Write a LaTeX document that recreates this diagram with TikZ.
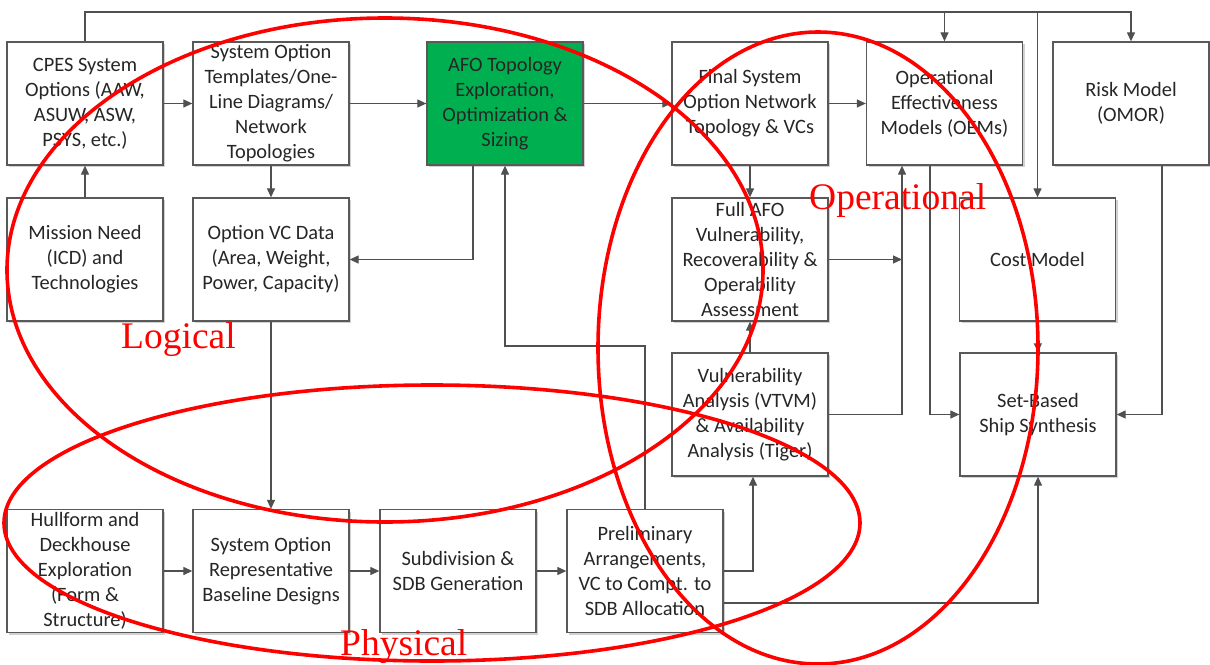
\documentclass[tikz,border=0pt]{standalone}
\usepackage{fontspec}
\setmainfont{Carlito}
\newfontfamily\ringfont{Liberation Serif}
\usetikzlibrary{arrows.meta,shadows}

\definecolor{edgegray}{RGB}{89,89,89}
\definecolor{linegray}{RGB}{80,80,80}
\definecolor{afogreen}{RGB}{0,176,80}
\definecolor{ringred}{RGB}{255,0,0}

\tikzset{
  procbox/.style={draw=edgegray, line width=1.3pt, fill=white,
    minimum width=156pt, minimum height=123pt, inner sep=0pt,
    align=center, text=black!85,
    font=\fontsize{20.4}{25}\selectfont,
    drop shadow={shadow xshift=2pt, shadow yshift=-2pt, opacity=0.18, fill=black}},
  link/.style={draw=linegray, line width=1.2pt},
  arr/.style={link, -{Triangle[length=9pt,width=8pt]}},
  ring/.style={draw=ringred, line width=3.6pt},
  ringlabel/.style={text=ringred, anchor=base west, inner sep=0pt,
    font=\ringfont\fontsize{37.5}{40}\selectfont}
}

\begin{document}
\begin{tikzpicture}[x=1pt,y=-1pt]
\useasboundingbox (0,0) rectangle (1210,664);
\fill[white] (0,0) rectangle (1210,664);

% top row
\node[procbox] (cpes)  at (85,103.5)    {CPES System\\Options (AAW,\\ASUW, ASW,\\PSYS, etc.)};
\node[procbox] (tmpl)  at (271,103.5)   {System Option\\Templates/One-\\Line Diagrams/\\Network\\Topologies};
\node[procbox, fill=afogreen] (afo) at (505,103.5) {AFO Topology\\Exploration,\\Optimization \&\\Sizing};
\node[procbox] (final) at (750,103.5)   {Final System\\Option Network\\Topology \& VCs};
\node[procbox] (oem)   at (944.5,103.5) {Operational\\Effectiveness\\Models (OEMs)};
\node[procbox] (risk)  at (1131,103.5)  {Risk Model\\(OMOR)};

% second row
\node[procbox] (mission) at (85,259.5)   {Mission Need\\(ICD) and\\Technologies};
\node[procbox] (vc)      at (271,259.5)  {Option VC Data\\(Area, Weight,\\Power, Capacity)};
\node[procbox] (full)    at (750,259.5)  {Full AFO\\Vulnerability,\\Recoverability \&\\Operability\\Assessment};
\node[procbox] (cost)    at (1037.5,259.5) {Cost Model};

% third row
\node[procbox] (vtvm) at (750,414.5)  {Vulnerability\\Analysis (VTVM)\\\& Availability\\Analysis (Tiger)};
\node[procbox] (sbss) at (1038,414.5) {Set-Based\\Ship Synthesis};

% bottom row
\node[procbox] (hull)   at (85,571)  {Hullform and\\Deckhouse\\Exploration\\(Form \&\\Structure)};
\node[procbox] (rep)    at (271,571) {System Option\\Representative\\Baseline Designs};
\node[procbox] (sub)    at (458,571) {Subdivision \&\\SDB Generation};
\node[procbox] (prelim) at (645,571) {Preliminary\\Arrangements,\\VC to Compt. to\\SDB Allocation};

% bus along the top
\coordinate (bus) at (0,12);
\draw[arr] (cpes.north) -- (cpes.north |- bus) -- (risk.north |- bus) -- (risk.north);
\draw[arr] (oem.north |- bus) -- (oem.north);
\draw[arr] (cost.north |- bus) -- (cost.north);

% logical chain
\draw[arr] (mission.north) -- (cpes.south);
\draw[arr] (cpes.east) -- (tmpl.west);
\draw[arr] (tmpl.east) -- (afo.west);
\draw[arr] (tmpl.south) -- (vc.north);
\draw[arr] ([xshift=-32pt]afo.south) |- (vc.east);
\draw[arr] (afo.east) -- (final.west);
\draw[arr] (final.east) -- (oem.west);
\draw[arr] (final.south) -- (full.north);
\draw[arr] (vtvm.north) -- (full.south);

% operational feeds
\coordinate (oemin) at ([xshift=-42.5pt]oem.south);
\draw[arr] (vtvm.east) -| (oemin);
\draw[arr] (full.east) -- (full.east -| oemin);
\draw[arr] ([xshift=-14.5pt]oem.south) |- (sbss.west);
\draw[arr] (cost.south) -- (sbss.north);
\draw[arr] ([xshift=31pt]risk.south) |- (sbss.east);

% physical chain
\draw[arr] (vc.south) -- (rep.north);
\draw[arr] (hull.east) -- (rep.west);
\draw[arr] (rep.east) -- (sub.west);
\draw[arr] (sub.east) -- (prelim.west);
\coordinate (backrow) at (0,346);
\draw[arr] (prelim.north) -- (prelim.north |- backrow) -- (afo.south |- backrow) -- (afo.south);
\draw[arr] (prelim.east) -| ([xshift=3pt]vtvm.south);
\draw[arr] ([yshift=-32pt]prelim.east) -| (sbss.south);

% grouping rings
\draw[ring] (385,270) ellipse [x radius=378pt, y radius=252pt];
\draw[ring] (432,523) ellipse [x radius=428pt, y radius=138pt];
\draw[ring] (818,348) ellipse [x radius=220pt, y radius=316pt];

\node[ringlabel] (lbllog) at (121,348) {Logical};
\node[ringlabel] (lblop)  at (809,209) {Operational};
\node[ringlabel] (lblph)  at (340,655) {Physical};
\end{tikzpicture}
\end{document}
